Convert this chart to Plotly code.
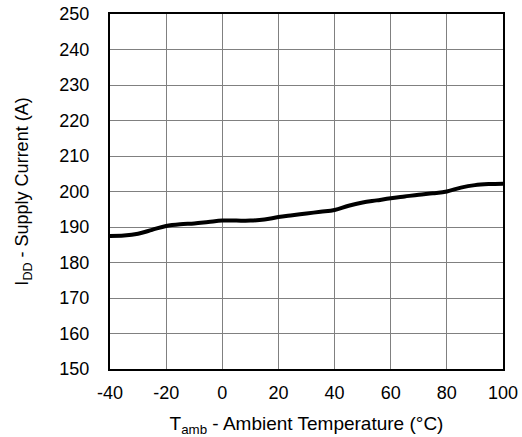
import plotly.graph_objects as go

temp_c = [-40, -35, -30, -25, -20, -15, -10, -5, 0, 5, 10, 15, 20, 25, 30, 35, 40,
          45, 50, 55, 60, 65, 70, 75, 80, 85, 90, 95, 100]
supply_current = [187.5, 187.6, 188.1, 189.2, 190.3, 190.8, 191.0, 191.4, 191.8, 191.8,
                  191.8, 192.1, 192.8, 193.3, 193.8, 194.3, 194.8, 196.0, 196.9, 197.5,
                  198.1, 198.6, 199.1, 199.5, 200.0, 201.1, 201.8, 202.1, 202.2]
x_ticks = [-40, -20, 0, 20, 40, 60, 80, 100]
x_tick_labels = ["-40", "-20", "0", "20", "40", "60", "80", "100"]
y_ticks = [150, 160, 170, 180, 190, 200, 210, 220, 230, 240, 250]

fig = go.Figure()
fig.add_trace(go.Scatter(x=temp_c, y=supply_current, mode="lines",
                         line=dict(color="black", width=4, shape="spline"),
                         showlegend=False))

font = dict(family="Liberation Sans, Arial, sans-serif", size=18, color="black")
fig.update_layout(
    width=522, height=437,
    margin=dict(l=110, r=19, t=14, b=68),
    paper_bgcolor="white", plot_bgcolor="white",
    font=font,
)
fig.update_xaxes(range=[-40, 100], tickvals=x_ticks, ticktext=x_tick_labels,
                 showgrid=True, automargin=False, ticklabelstandoff=6,
                 ticklabeloverflow="allow",
                 gridcolor="#808080", gridwidth=1, showline=True, linecolor="black",
                 linewidth=2, mirror=True, ticks="", zeroline=False,
                 title=dict(text="T<sub>amb</sub> - Ambient Temperature (°C)",
                            font=dict(size=19), standoff=22))
fig.update_yaxes(range=[150, 250], tickvals=y_ticks, showgrid=True, automargin=False,
                 ticklabelstandoff=15, ticklabeloverflow="allow",
                 gridcolor="#808080", gridwidth=1, showline=True, linecolor="black",
                 linewidth=2, mirror=True, ticks="", zeroline=False,
                 title=dict(text="I<sub>DD</sub> - Supply Current (A)",
                            font=dict(size=18), standoff=26))
fig.write_html("out.html", config={"displayModeBar": False},
               post_script="document.body.style.margin='0';")
